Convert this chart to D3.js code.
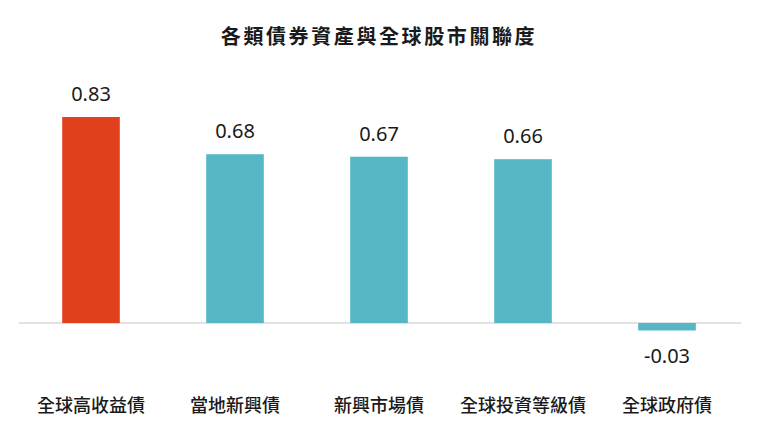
<!DOCTYPE html>
<html>
<head>
<meta charset="utf-8">
<script src="https://cdn.jsdelivr.net/npm/d3@7"></script>
<style>
  html, body { margin: 0; padding: 0; background: #fff; }
  svg { display: block; }
</style>
</head>
<body>
<svg id="chart"></svg>
<script>
// data
const categories = ["全球高收益債", "當地新興債", "新興市場債", "全球投資等級債", "全球政府債"];
const correlations = [0.83, 0.68, 0.67, 0.66, -0.03];
const valueLabels = ["0.83", "0.68", "0.67", "0.66", "-0.03"];
const highlight = "全球高收益債";
const title = "各類債券資產與全球股市關聯度";

const width = 760, height = 430;
const cjk = "'Noto Sans CJK TC', 'Noto Sans CJK SC', sans-serif";
const latin = "'Noto Sans', 'Open Sans', sans-serif";

const svg = d3.select("#chart").attr("width", width).attr("height", height);

const x = d3.scaleBand()
    .domain(categories)
    .range([19, 739])
    .paddingInner(0.6)
    .paddingOuter(0.3);

const y = d3.scaleLinear()
    .domain([-0.3, 1.0])
    .range([397.5, 74.8]);

const rows = categories.map((c, i) => ({ name: c, value: correlations[i], label: valueLabels[i] }));

svg.append("text")
    .attr("x", 379)
    .attr("y", 35)
    .attr("text-anchor", "middle")
    .attr("dominant-baseline", "central")
    .style("font-family", cjk)
    .style("font-weight", 700)
    .style("font-size", "20px")
    .style("letter-spacing", "2.6px")
    .attr("fill", "#1a1a1a")
    .text(title);

// zero line
svg.append("line")
    .attr("x1", 19)
    .attr("x2", 741)
    .attr("y1", y(0))
    .attr("y2", y(0))
    .attr("stroke", "#d9d9d9")
    .attr("stroke-width", 1.5);

svg.selectAll("rect.bar")
    .data(rows)
    .join("rect")
    .attr("class", "bar")
    .attr("x", d => x(d.name))
    .attr("width", x.bandwidth())
    .attr("y", d => y(Math.max(0, d.value)))
    .attr("height", d => Math.abs(y(d.value) - y(0)))
    .attr("fill", d => d.name === highlight ? "#E1401C" : "#55B6C6");

svg.selectAll("text.value")
    .data(rows)
    .join("text")
    .attr("class", "value")
    .attr("x", d => x(d.name) + x.bandwidth() / 2)
    .attr("y", d => d.value >= 0 ? y(d.value) - 16 : y(d.value) + 33)
    .attr("text-anchor", "middle")
    .style("font-family", latin)
    .style("font-size", "20px")
    .attr("fill", "#1a1a1a")
    .text(d => d.label);

svg.selectAll("text.cat")
    .data(rows)
    .join("text")
    .attr("class", "cat")
    .attr("x", d => x(d.name) + x.bandwidth() / 2)
    .attr("y", 404)
    .attr("text-anchor", "middle")
    .attr("dominant-baseline", "central")
    .style("font-family", cjk)
    .style("font-weight", 500)
    .style("font-size", "18px")
    .attr("fill", "#1a1a1a")
    .text(d => d.name);
</script>
</body>
</html>
